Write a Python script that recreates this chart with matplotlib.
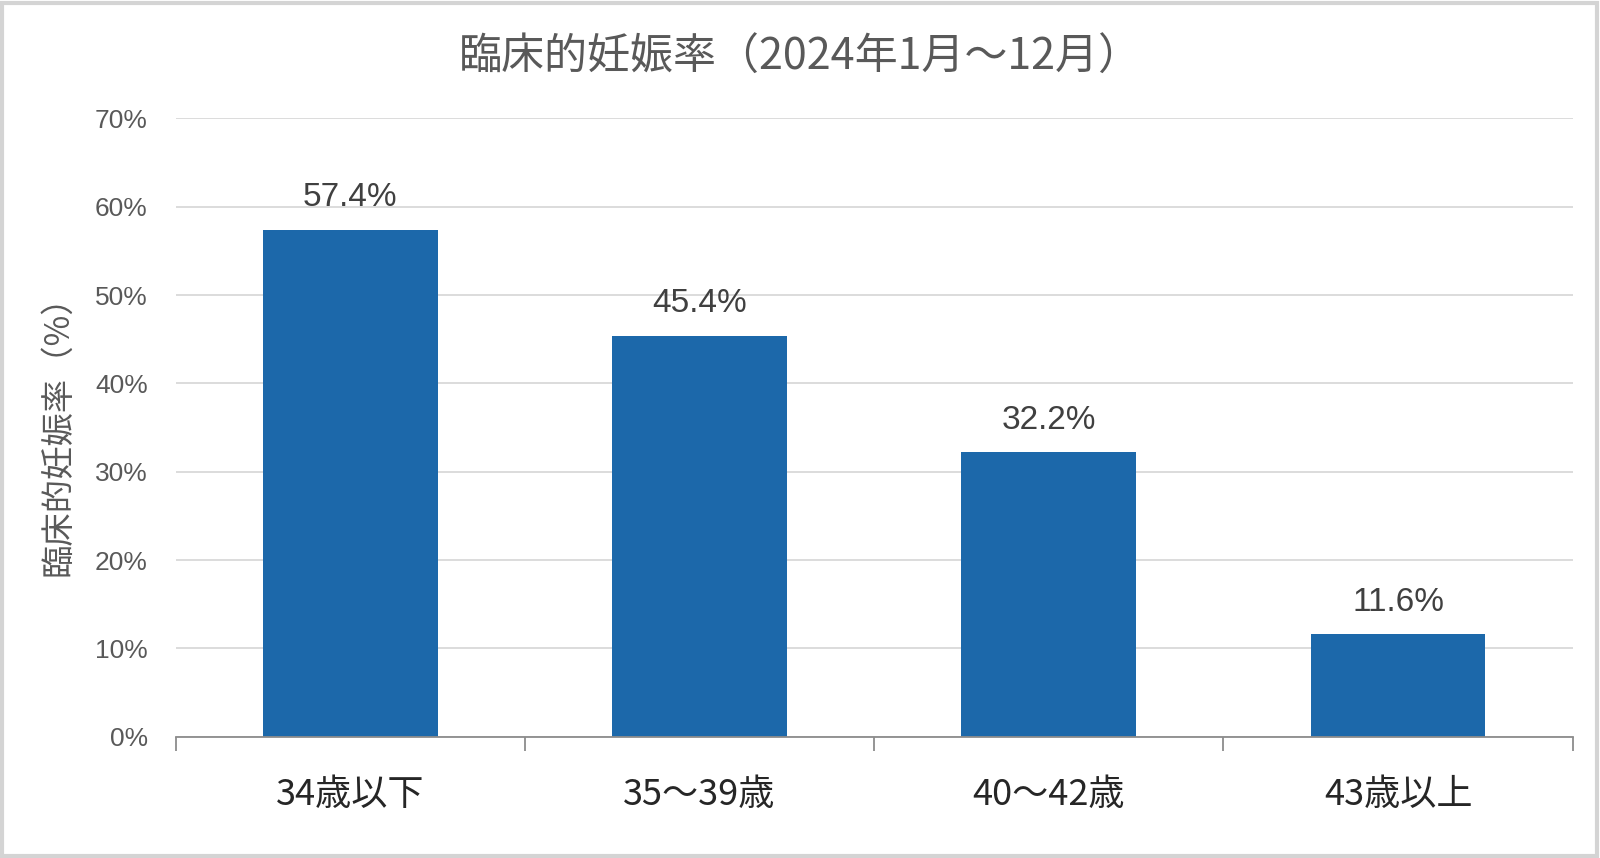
import matplotlib
matplotlib.use("Agg")
import matplotlib.pyplot as plt
from matplotlib.patches import Rectangle
from matplotlib.ticker import MultipleLocator, FuncFormatter, FixedLocator

plt.rcParams['font.family'] = ['Liberation Sans', 'Noto Sans CJK JP', 'DejaVu Sans']

# data
categories = ['34歳以下', '35～39歳', '40～42歳', '43歳以上']
rates = [57.4, 45.4, 32.2, 11.6]
title = '臨床的妊娠率（2024年1月～12月）'
ylabel = '臨床的妊娠率（%）'

fig = plt.figure(figsize=(16, 8.58), dpi=100)
ax = fig.add_axes([0.1097, 0.1413, 0.8733, 0.7207])

x = range(len(categories))
bars = ax.bar(x, rates, width=0.5, color='#1c68aa', zorder=3)

for b, v in zip(bars, rates):
    ax.annotate('{:.1f}%'.format(v), (b.get_x() + b.get_width() / 2, v),
                xytext=(0, 12), textcoords='offset points',
                ha='center', va='bottom', fontsize=24, color='#404040')

ax.set_xlim(-0.5, len(categories) - 0.5)
ax.set_ylim(0, 70)
ax.yaxis.set_major_locator(MultipleLocator(10))
ax.yaxis.set_major_formatter(FuncFormatter(lambda v, p: '{:.0f}%'.format(v)))
ax.grid(axis='y', color='#d9d9d9', linewidth=1.3, zorder=0)

ax.set_xticks(list(x))
ax.set_xticklabels(categories, fontsize=26, color='#262626',
                   family=['Noto Sans CJK JP', 'DejaVu Sans'])
ax.tick_params(axis='x', which='major', length=0, pad=29)
ax.xaxis.set_minor_locator(FixedLocator([i - 0.5 for i in range(len(categories) + 1)]))
ax.tick_params(axis='x', which='minor', length=10, width=1.3, color='#8c8c8c')
ax.tick_params(axis='y', length=0, labelsize=19, labelcolor='#595959', pad=20)

for s in ['top', 'right', 'left']:
    ax.spines[s].set_visible(False)
ax.spines['bottom'].set_color('#8c8c8c')
ax.spines['bottom'].set_linewidth(1.3)
ax.spines['bottom'].set_zorder(4)

ax.set_ylabel(ylabel, fontsize=24, color='#595959', labelpad=14,
              family=['Noto Sans CJK JP', 'DejaVu Sans'])
fig.text(0.5, 0.932, title, ha='center', va='center', fontsize=31, color='#595959',
         family=['Noto Sans CJK JP', 'DejaVu Sans'])

# light frame around the picture
fig.patches.append(Rectangle((0.001, 0.002), 0.997, 0.995, transform=fig.transFigure,
                             fill=False, edgecolor='#d4d4d4', linewidth=3))

fig.savefig('out.png', dpi=100)
